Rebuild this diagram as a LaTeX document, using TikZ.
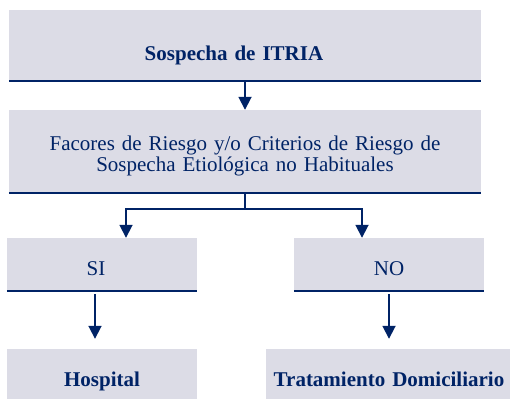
\documentclass[tikz,border=0pt]{standalone}
\usepackage{fontspec}
\setmainfont{Liberation Serif}
\usetikzlibrary{positioning,arrows.meta}
\definecolor{itrianavy}{RGB}{0,35,102}
\definecolor{boxgray}{RGB}{220,220,230}

\begin{document}
\begin{tikzpicture}[
		x=1pt, y=-1pt,
		every node/.style={font=\fontsize{21}{21}\selectfont, text=itrianavy},
		% caja gris, el texto se coloca por su linea base
		flow_box/.style={
			fill=boxgray, inner sep=0pt, align=center, anchor=base
		},
		bold_box/.style={
			flow_box, font=\fontsize{21}{21}\selectfont\bfseries
		},
		% linea azul bajo cada caja
		base_line/.style={draw=itrianavy, line width=1.5pt},
		flow_arrow/.style={
			-{Triangle[width=13pt,length=13pt]}, draw=itrianavy, line width=1.8pt
		}
		]
		\useasboundingbox (0,0) rectangle (510,398);
		
		\node[bold_box, text width=472pt, text height=51pt, text depth=20pt] (sospecha) at (245,61)
		{Sospecha de ITRIA\hspace*{22pt}};
		\node[flow_box, text width=472pt, text height=40pt, text depth=43pt] (factores) at (245,150)
		{Facores de Riesgo y/o Criterios de Riesgo de\\ Sospecha Etiológica no Habituales};
		
		% respuestas
		\node[flow_box, text width=190pt, text height=37pt, text depth=16pt] (si) at (102,275) {SI\hspace*{12pt}};
		\node[flow_box, text width=190pt, text height=37pt, text depth=16pt] (no) at (389,275) {NO};
		
		% destino
		\node[bold_box, text width=190pt, text height=37pt, text depth=14pt] (hospital) at (102,386) {Hospital};
		\node[bold_box, text width=246pt, text height=37pt, text depth=14pt] (tratamiento) at (389,386)
		{Tratamiento Domiciliario};
		
		\draw[base_line] (sospecha.south west) -- (sospecha.south east);
		\draw[base_line] (factores.south west) -- (factores.south east);
		\draw[base_line] (si.south west) -- (si.south east);
		\draw[base_line] (no.south west) -- (no.south east);
		
		\draw[flow_arrow] (sospecha) -- (factores);
		\draw[flow_arrow] (factores.south) -- ++(0,16) -| ([xshift=24pt]si.north);
		\draw[flow_arrow] (factores.south) -- ++(0,16) -| ([xshift=-27pt]no.north);
		\draw[flow_arrow, shorten <=3pt, shorten >=10pt] ([xshift=-7pt]si.south) -- ([xshift=-7pt]hospital.north);
		\draw[flow_arrow, shorten <=3pt, shorten >=10pt] (no.south) -- (tratamiento.north);
		
\end{tikzpicture}
\end{document}
